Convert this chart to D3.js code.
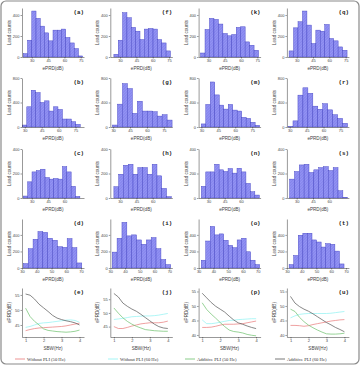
<!DOCTYPE html>
<html>
<head>
<meta charset="utf-8">
<script src="https://cdn.jsdelivr.net/npm/d3@7"></script>
<style>
    body { margin: 0; background: #fff; }
</style>
</head>
<body>
<div id="chart"></div>
<script>

// ---- histogram counts (Lead counts per ePRD bin) ----
const countsA = [32, 160, 438, 368, 294, 230, 154, 256, 256, 266, 186, 134, 80, 10];
const countsF = [26, 160, 422, 374, 282, 246, 166, 266, 272, 266, 166, 134, 58];
const countsK = [38, 262, 368, 358, 314, 224, 202, 214, 282, 288, 144, 112, 64];
const countsQ = [58, 278, 336, 438, 304, 128, 256, 246, 310, 176, 154, 96, 64];

const countsB = [32, 330, 600, 562, 400, 427, 260, 330, 286, 130, 130, 86, 43];
const countsG = [32, 373, 708, 627, 222, 421, 260, 260, 249, 178, 200, 113];
const countsM = [50, 368, 735, 524, 357, 292, 368, 276, 260, 157, 140, 76, 27];
const countsR = [5, 100, 520, 640, 550, 340, 290, 380, 280, 200, 140, 60];

const countsC = [16, 132, 213, 224, 235, 167, 154, 159, 154, 256, 213, 95, 13];
const countsH = [92, 194, 267, 275, 194, 248, 248, 194, 275, 181, 78, 11];
const countsN = [95, 213, 213, 275, 230, 216, 240, 203, 243, 213, 119, 51, 24];
const countsS = [154, 216, 270, 275, 208, 230, 248, 256, 224, 248, 59, 5];

const countsD = [53, 233, 347, 440, 430, 359, 335, 257, 249, 355, 245, 61];
const countsI = [192, 359, 551, 388, 400, 339, 286, 339, 367, 233, 102, 41];
const countsO = [94, 326, 502, 400, 412, 335, 273, 245, 339, 359, 196, 94, 41];
const countsT = [41, 151, 396, 420, 420, 339, 314, 253, 294, 286, 204, 49];

// first bin edge and bin width (dB) for each histogram
const binStart = {a: 22.2, f: 24.3, k: 22.8, q: 23.0, b: 27.8, g: 29.5, m: 29.9, r: 28.5,
                  c: 22.2, h: 24.3, n: 23.5, s: 23.5, d: 30.9, i: 31.3, o: 31.8, t: 31.5};
const binWidth = {a: 3.9, f: 4.0, k: 4.1, q: 4.1, b: 3.95, g: 4.4, m: 3.98, r: 4.4,
                  c: 4.0, h: 4.4, n: 4.1, s: 4.45, d: 3.3, i: 3.3, o: 3.04, t: 3.1};

// axis ticks per histogram row
const histXDomain = [[21, 78], [27.5, 82.5], [21, 78], [30, 72]];
const histXTicks = [[30, 45, 60, 75], [30, 45, 60, 75], [30, 45, 60], [30, 40, 50, 60, 70]];
const histYDomain = [[0, 467], [0, 800], [0, 400], [0, 592]];
const histYTicks = [[0, 200, 400], [0, 400, 800], [0, 200, 400], [0, 200, 400]];

// ---- ePRD vs SBW curves ----
const sbw = [1, 1.25, 1.5, 1.75, 2, 2.25, 2.5, 2.75, 3, 3.25, 3.5, 3.75, 4];

const eWithout50 = [43.1, 43.5, 43.8, 44.0, 44.1, 44.2, 44.3, 44.4, 44.5, 44.7, 45.0, 45.3, 45.6];
const eWithout60 = [44.2, 44.5, 45.0, 45.5, 45.7, 45.8, 46.0, 46.2, 46.4, 46.6, 46.7, 46.5, 45.9];
const eAdditive50 = [50.6, 47.8, 46.2, 45.0, 43.7, 43.2, 43.0, 42.8, 42.7, 42.6, 42.7, 42.9, 43.3];
const eAdditive60 = [55.3, 54.9, 53.6, 51.9, 50.7, 49.5, 48.2, 47.3, 46.8, 46.4, 46.1, 45.7, 45.0];

const jWithout50 = [45.0, 44.3, 44.3, 44.7, 45.2, 45.6, 46.0, 46.2, 46.4, 46.4, 46.4, 46.6, 47.0];
const jWithout60 = [47.6, 47.8, 48.0, 48.3, 48.6, 48.7, 48.8, 48.9, 48.9, 49.0, 49.2, 49.5, 49.8];
const jAdditive50 = [51.8, 49.9, 48.2, 46.9, 45.9, 45.1, 44.5, 43.9, 43.7, 43.5, 43.4, 43.3, 43.3];
const jAdditive60 = [57.1, 55.8, 53.6, 52.4, 51.4, 50.6, 49.5, 48.3, 47.1, 45.9, 45.0, 44.5, 44.3];

const pWithout50 = [42.6, 42.6, 42.7, 43.0, 43.4, 43.7, 43.7, 43.7, 43.8, 43.9, 44.2, 44.5, 44.8];
const pWithout60 = [45.2, 43.9, 43.9, 44.1, 44.4, 44.7, 45.0, 45.1, 45.3, 45.4, 45.5, 45.6, 45.6];
const pAdditive50 = [51.1, 48.8, 47.2, 45.8, 44.3, 42.9, 41.7, 41.2, 41.0, 40.7, 40.2, 39.9, 39.7];
const pAdditive60 = [54.4, 52.8, 51.2, 49.9, 48.9, 47.9, 46.5, 45.2, 44.2, 43.7, 43.1, 42.6, 42.2];

const uWithout50 = [43.3, 43.3, 43.2, 43.0, 43.2, 43.6, 43.9, 44.2, 44.5, 44.8, 45.0, 45.2, 45.3];
const uWithout60 = [45.9, 46.6, 47.1, 47.3, 47.4, 47.4, 47.4, 47.4, 47.4, 47.5, 47.7, 47.9, 48.1];
const uAdditive50 = [48.9, 48.1, 46.1, 44.6, 43.4, 42.5, 41.7, 41.0, 40.4, 40.3, 40.3, 40.4, 40.6];
const uAdditive60 = [53.3, 51.0, 49.8, 48.9, 48.2, 47.3, 46.3, 45.3, 44.3, 43.5, 42.6, 41.9, 41.1];

const seriesNames = ["Without PLI (50 Hz)", "Without PLI (60 Hz)", "Additive PLI (50 Hz)", "Additive PLI (60 Hz)"];
const lineYDomain = {e: [41, 57.3], j: [41.2, 59.1], p: [39.3, 56.2], u: [39.3, 56.2]};
const lineYTicks = {e: [45, 50, 55], j: [45, 50, 55], p: [40, 45, 50, 55], u: [40, 45, 50, 55]};
const sbwTicks = [1, 2, 3, 4];


// ---- layout ----
const width = 360, height = 365;
const colX = [22, 110.3, 198.6, 286.9];     // y-axis position of each column
const rowY = [57, 127, 198, 268, 337];     // x-axis position of each row
const plotW = 62, plotH = 49;
const seriesColors = ["#e87878", "#8ef2f2", "#6cc06c", "#555555"];
const tickFont = "'Liberation Sans', Arial, sans-serif";

const histPanels = [
    {key: "a", row: 0, col: 0, counts: countsA}, {key: "f", row: 0, col: 1, counts: countsF},
    {key: "k", row: 0, col: 2, counts: countsK}, {key: "q", row: 0, col: 3, counts: countsQ},
    {key: "b", row: 1, col: 0, counts: countsB}, {key: "g", row: 1, col: 1, counts: countsG},
    {key: "m", row: 1, col: 2, counts: countsM}, {key: "r", row: 1, col: 3, counts: countsR},
    {key: "c", row: 2, col: 0, counts: countsC}, {key: "h", row: 2, col: 1, counts: countsH},
    {key: "n", row: 2, col: 2, counts: countsN}, {key: "s", row: 2, col: 3, counts: countsS},
    {key: "d", row: 3, col: 0, counts: countsD}, {key: "i", row: 3, col: 1, counts: countsI},
    {key: "o", row: 3, col: 2, counts: countsO}, {key: "t", row: 3, col: 3, counts: countsT}
];

const linePanels = [
    {key: "e", col: 0, series: [eWithout50, eWithout60, eAdditive50, eAdditive60]},
    {key: "j", col: 1, series: [jWithout50, jWithout60, jAdditive50, jAdditive60]},
    {key: "p", col: 2, series: [pWithout50, pWithout60, pAdditive50, pAdditive60]},
    {key: "u", col: 3, series: [uWithout50, uWithout60, uAdditive50, uAdditive60]}
];

const svg = d3.select("#chart").append("svg")
    .attr("width", width)
    .attr("height", height);

// frame round the figure
svg.append("rect")
    .attr("x", 1).attr("y", 1)
    .attr("width", width - 2).attr("height", height - 2)
    .attr("rx", 5)
    .attr("fill", "none")
    .attr("stroke", "#8a8a8a")
    .attr("stroke-width", 1.2);

// hatched bar fill
const defs = svg.append("defs");
const hatch = defs.append("pattern")
    .attr("id", "hatch")
    .attr("patternUnits", "userSpaceOnUse")
    .attr("width", 2).attr("height", 2)
    .attr("patternTransform", "rotate(45)");
hatch.append("rect").attr("width", 2).attr("height", 2).attr("fill", "#9494f4");
hatch.append("line")
    .attr("x1", 0).attr("y1", 0).attr("x2", 0).attr("y2", 2)
    .attr("stroke", "#6666dc").attr("stroke-width", 0.7);

function styleAxis(g) {
    g.attr("font-size", 4).attr("font-family", tickFont);
    g.selectAll("text").attr("fill", "#444");
    g.selectAll("path, line").attr("stroke", "#333").attr("stroke-width", 0.5);
}

function panelLabel(key, ax, by) {
    svg.append("text")
        .attr("x", ax + plotW)
        .attr("y", by - 43)
        .attr("text-anchor", "end")
        .attr("font-family", "'Liberation Mono', monospace")
        .attr("font-weight", "bold")
        .attr("font-size", 5.8)
        .attr("fill", "#222")
        .text("(" + key + ")");
}

function axisTitles(ax, by, xTitle, yTitle) {
    svg.append("text")
        .attr("x", ax + plotW / 2)
        .attr("y", by + 13)
        .attr("text-anchor", "middle")
        .attr("font-family", tickFont)
        .attr("font-size", 4.6)
        .attr("fill", "#444")
        .text(xTitle);

    svg.append("text")
        .attr("transform", `translate(${ax - 11}, ${by - plotH / 2}) rotate(-90)`)
        .attr("text-anchor", "middle")
        .attr("font-family", tickFont)
        .attr("font-size", 4.6)
        .attr("fill", "#444")
        .text(yTitle);
}

// ---- histograms ----
histPanels.forEach(p => {
    let ax = colX[p.col], by = rowY[p.row];

    let x = d3.scaleLinear().domain(histXDomain[p.row]).range([ax, ax + plotW]);
    let y = d3.scaleLinear().domain(histYDomain[p.row]).range([by, by - plotH]);

    let s = binStart[p.key], w = binWidth[p.key];

    svg.append("g").selectAll("rect")
        .data(p.counts)
        .join("rect")
        .attr("x", (d, i) => x(s + i * w))
        .attr("width", (d, i) => x(s + (i + 1) * w) - x(s + i * w))
        .attr("y", d => y(d))
        .attr("height", d => by - y(d))
        .attr("fill", "url(#hatch)")
        .attr("stroke", "#4444c4")
        .attr("stroke-width", 0.45);

    svg.append("g")
        .attr("transform", `translate(0,${by})`)
        .call(d3.axisBottom(x).tickValues(histXTicks[p.row]).tickSize(1.5).tickSizeOuter(0).tickPadding(1))
        .call(styleAxis);

    svg.append("g")
        .attr("transform", `translate(${ax},0)`)
        .call(d3.axisLeft(y).tickValues(histYTicks[p.row]).tickSize(1.5).tickSizeOuter(0).tickPadding(1))
        .call(styleAxis);

    panelLabel(p.key, ax, by);
    axisTitles(ax, by, "ePRD(dB)", "Lead counts");
});

// ---- ePRD vs SBW ----
linePanels.forEach(p => {
    let ax = colX[p.col], by = rowY[4];

    let x = d3.scaleLinear().domain([0.8, 4.25]).range([ax, ax + plotW]);
    let y = d3.scaleLinear().domain(lineYDomain[p.key]).range([by, by - plotH]);

    let line = d3.line()
        .x((d, i) => x(sbw[i]))
        .y(d => y(d));

    svg.append("g").selectAll("path")
        .data(p.series)
        .join("path")
        .attr("d", line)
        .attr("fill", "none")
        .attr("stroke", (d, i) => seriesColors[i])
        .attr("stroke-width", 0.7);

    svg.append("g")
        .attr("transform", `translate(0,${by})`)
        .call(d3.axisBottom(x).tickValues(sbwTicks).tickFormat(d3.format("d"))
            .tickSize(1.5).tickSizeOuter(0).tickPadding(1))
        .call(styleAxis);

    svg.append("g")
        .attr("transform", `translate(${ax},0)`)
        .call(d3.axisLeft(y).tickValues(lineYTicks[p.key]).tickSize(1.5).tickSizeOuter(0).tickPadding(1))
        .call(styleAxis);

    panelLabel(p.key, ax, by);
    axisTitles(ax, by, "SBW(Hz)", "ePRD(dB)");
});

// ---- legend ----
const legendX = [15, 108, 185, 275];
const legend = svg.append("g").attr("transform", "translate(0,359)");
seriesNames.forEach((name, i) => {
    legend.append("line")
        .attr("x1", legendX[i]).attr("x2", legendX[i] + 10)
        .attr("y1", 0).attr("y2", 0)
        .attr("stroke", seriesColors[i])
        .attr("stroke-width", 0.8);
    legend.append("text")
        .attr("x", legendX[i] + 12)
        .attr("y", 1.6)
        .attr("font-family", "'Liberation Serif', 'Times New Roman', serif")
        .attr("font-size", 4.6)
        .attr("fill", "#333")
        .text(name);
});

</script>
</body>
</html>
